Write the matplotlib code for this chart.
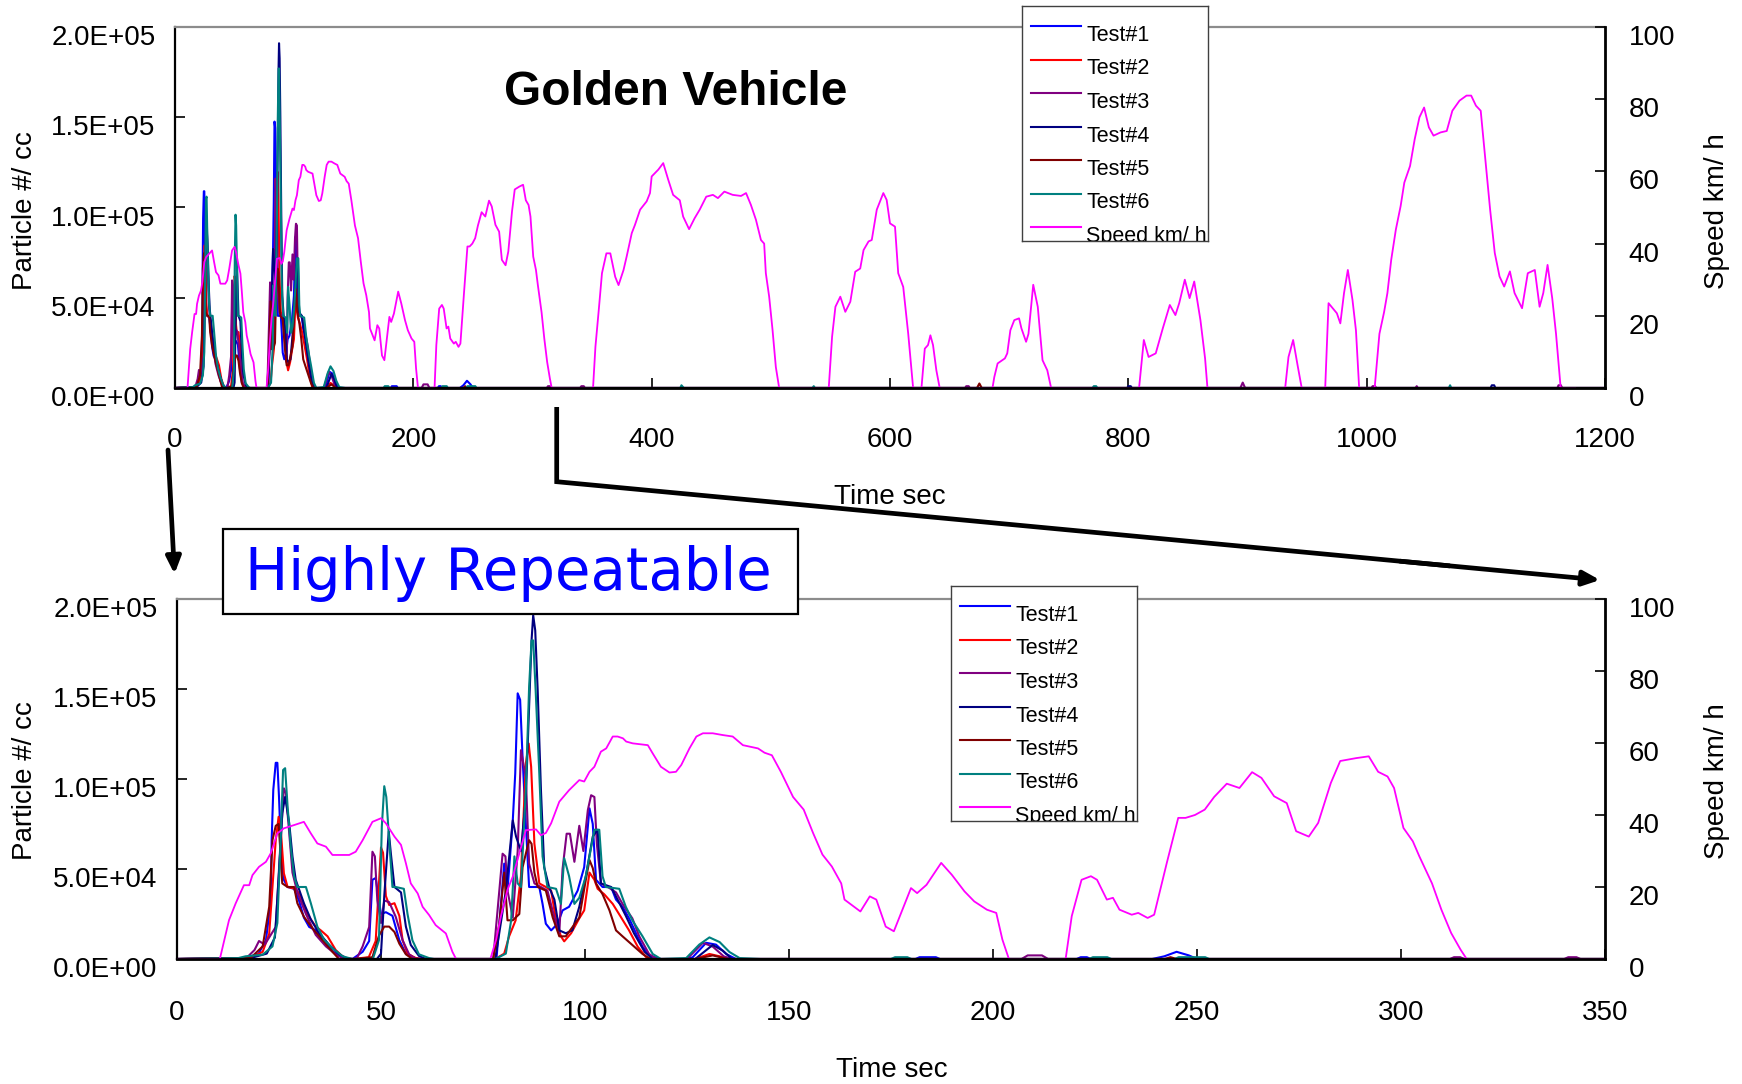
import matplotlib
matplotlib.use("Agg")
import matplotlib.pyplot as plt
import matplotlib.transforms as mtransforms
from matplotlib import font_manager
from matplotlib.patches import Rectangle, FancyArrowPatch, ArrowStyle
from matplotlib.lines import Line2D
import numpy as np

plt.rcParams['font.family'] = ['Liberation Sans', 'DejaVu Sans']

# ---------------- data ----------------
# particle counts in thousands of particles / cc, time in seconds
test1_t = [0, 17, 20, 21.8, 23, 23.2, 23.6, 24.2, 24.6, 25, 25.4, 25.8, 26.2, 27.1, 28.7, 29.9, 31.1, 32.4, 34, 36.5,
           38.1, 40.6, 43, 45.5, 47.1, 47.9, 48.7, 49.5, 50, 51.2, 52.8, 54.5, 56.1, 58.5, 60, 78.3, 79, 80.2, 81, 82.3,
           82.9, 83.5, 84.1, 84.7, 85.5, 86.3, 88.8, 89.6, 90.4, 91.7, 93.3, 94.5, 96.1, 98.2, 99.8, 101.1, 101.9,
           102.7, 104.3, 106.4, 107.6, 109.2, 110.8, 112.5, 114.1, 115.7, 118.2, 125, 126.4, 129.7, 132.1, 134.6, 137,
           181, 182, 186, 187, 220.5, 221.5, 223, 224, 239, 242, 245, 248, 250, 1200]
test1_k = [0, 0.5, 3, 10.4, 32.5, 66, 94, 109, 109, 90, 66, 51, 44, 40, 39, 32.5, 23, 17.8, 16, 9.8,
           4.3, 0.6, 0, 4, 10, 44, 45, 32.5, 25, 26, 24, 10.4, 3, 0.5, 0, 0, 19.6, 53, 38, 77,
           103, 147.6, 144, 112, 75, 40, 40, 30.6, 19.6, 15.9, 19.6, 27, 29, 38, 51, 83.7, 75,
           44, 40, 40, 33, 29, 22.6, 14.3, 6.9, 2.2, 0, 0, 1, 9, 8, 2.8, 0,
           0, 1, 1, 0, 0, 1, 1, 0, 0, 1.5, 4, 2, 0, 0]

test2_t = [0, 18, 21, 22.6, 24.2, 24.9, 25.4, 26.2, 27.1, 29.1, 30.3, 31.9, 34, 35.2, 36.9, 38.9, 41, 43, 47, 48.7,
           50, 50.5, 51.2, 52, 53.3, 54.5, 55.3, 56.5, 58.5, 60, 78, 80.2, 81.4, 83, 84.3, 85.5, 86.2, 86.8, 87.6,
           88.8, 90.4, 91.7, 92.9, 94.1, 94.9, 96.6, 98.6, 99.8, 101.1, 102.3, 103.1, 104.7, 106.8, 108.8, 110.8,
           112.9, 115, 116.6, 127, 130.5, 133, 135, 1200]
test2_k = [0, 0.5, 4, 14, 66, 79, 73, 47.6, 40, 39, 35, 25, 18, 16, 12.6, 5, 0.5, 0, 1, 10,
           62, 59, 35, 30, 31, 24, 10.4, 3, 0.5, 0, 0, 3, 12.6, 21.5, 46, 108.6, 119.7, 106.8, 64,
           42, 40, 38, 21.5, 12.6, 9.8, 14.3, 22.6, 27, 48, 44, 39, 36, 30.6, 23.3, 15.9,
           6.9, 1, 0, 0, 2.8, 1.5, 0, 0]

test3_t = [0, 17, 19, 20.1, 21.5, 24.2, 25.4, 26.2, 26.7, 27.5, 28.3, 29.5, 31.6, 34, 36.5, 38.9, 41, 44, 45.5, 47.1,
           47.9, 48.5, 49.1, 50, 50.8, 52, 53.6, 55.3, 56.9, 58.5, 77.5, 79, 79.8, 80.5, 81, 82.3, 83.5, 84.3, 85.5,
           86.3, 87.6, 89.2, 90.8, 92.5, 93.7, 94.5, 95.5, 96.3, 97.4, 98.6, 99.6, 100.7, 101.5, 102.3, 102.9, 103.9,
           105.6, 107.6, 109.2, 111.6, 113.3, 115.7, 117.5, 125, 128.9, 131.3, 134, 136,
           207, 208.5, 212, 213.5, 312, 313, 314.5, 315.5, 340, 341, 343, 344, 663, 664, 666, 667,
           894, 896, 898, 1004, 1005, 1007, 1008, 1041, 1042, 1043, 1160, 1161, 1163, 1164, 1200]
test3_k = [0, 0.5, 5, 10, 8, 17.8, 66, 94.8, 92, 70, 48, 37, 25, 13.4, 7, 2.6, 0, 0, 7, 17.8,
           59.6, 57, 32.5, 20, 32.5, 31.6, 23.5, 10.4, 2.6, 0, 0, 38, 58.5, 57, 38, 23, 60, 116, 101,
           53, 42, 40, 38, 23, 14.3, 50, 69.6, 69.6, 54, 74, 60, 82.8, 91, 90, 64, 42,
           40, 37, 30.6, 22.6, 12.6, 2.8, 0, 0, 9, 6.9, 1.5, 0,
           0, 2, 2, 0, 0, 1, 1, 0, 0, 1, 1, 0, 0, 1, 1, 0,
           0, 3, 0, 0, 1, 1, 0, 0, 1, 0, 0, 1.5, 1.5, 0, 0]

test4_t = [0, 18, 22, 24, 25, 25.8, 26.5, 27.5, 28.3, 29.1, 31.1, 32.8, 34.8, 37.3, 39.7, 42, 49, 50, 50.8, 51.9,
           52.4, 53.3, 54.9, 56.1, 57.3, 59.3, 61, 78, 80.6, 82.3, 83.1, 84.3, 85.5, 86.3, 86.9, 87.3, 87.8, 88.4,
           89.2, 90, 91.2, 92.5, 93.7, 95.3, 96.9, 98.6, 100.2, 101.9, 103.1, 103.9, 106.4, 108, 110, 112, 114.6,
           116.6, 127, 131.3, 133.8, 136, 799, 800, 802, 803, 1104, 1105, 1107, 1108, 1200]
test4_k = [0, 0.5, 3, 12, 48, 81, 90, 75.6, 57, 44, 31, 22, 14.4, 7.8, 2.6, 0, 0, 3, 35, 70.8,
           59, 40, 37, 18, 7.8, 1.7, 0, 0, 38, 77, 68, 60, 90, 140, 177, 191, 182.6, 149.5,
           94, 51, 40, 33, 15.9, 14.3, 15.9, 29, 46, 68, 71.8, 42, 40, 33, 24, 14.3, 4,
           0, 0, 7.8, 4.6, 0, 0, 1, 1, 0, 0, 1.5, 1.5, 0, 0]

test5_t = [0, 18, 21, 22.6, 23.4, 24.2, 24.9, 25.4, 25.8, 27.1, 28.7, 29.5, 31.1, 33.2, 35.7, 38.1, 39.7, 44, 47.9,
           49.5, 50.8, 52, 53.3, 54.5, 56.1, 57.7, 77.5, 79, 80.2, 81, 82.3, 83.9, 84.7, 86.3, 86.9, 87.6, 88.4, 90.4,
           92.1, 93.7, 95.3, 98.6, 100.2, 101.1, 101.9, 102.7, 104.3, 106, 107.6, 109.2, 111.6, 114.1, 116, 127,
           131.3, 135, 242, 243.5, 245, 673, 675, 677, 1200]
test5_k = [0, 0.5, 7, 29, 66, 74, 75, 58, 42, 40, 40, 31, 23.5, 17, 10.4, 4, 0, 0, 1,
           13, 18, 18, 15, 8.5, 2.6, 0, 0, 19.6, 48, 21.5, 21.5, 25, 51, 66, 64, 48, 40, 38,
           23, 12.6, 12.6, 23, 44, 55, 50.5, 42, 36, 27, 15.9, 12.6, 7.8, 2.8, 0, 0,
           2, 0, 0, 1, 0, 0, 2.5, 0, 0]

test6_t = [0, 15, 16.8, 21, 23.4, 24.6, 25.4, 26, 26.5, 27.1, 27.9, 28.7, 29.5, 31.6, 32.8, 34.4, 36, 38.1, 40.6, 43,
           48, 49.5, 50.2, 50.8, 51.3, 52, 52.8, 53.6, 55.6, 56.5, 57.7, 59.3, 61.8, 63, 78, 80.6, 81.9, 82.7, 83.5,
           84.3, 85.5, 86.3, 86.9, 87.3, 87.9, 88.8, 89.6, 90.8, 92.9, 94.1, 94.9, 96.1, 97.4, 98.6, 100.2, 102.3,
           103.5, 104.3, 105.1, 108.4, 110, 111.6, 114.1, 116.6, 118.6, 124.8, 128, 130.5, 133, 135.4, 137.9, 143,
           175, 176, 179, 180, 223.5, 224.5, 228, 229, 244.5, 245.5, 252, 253, 424, 425, 427, 535, 536, 537,
           770, 771, 773, 774, 1069, 1070, 1071, 1200]
test6_k = [0, 0.5, 1.5, 2.4, 7, 20, 66, 105, 106, 85, 62, 46, 40, 40, 31, 18, 11, 6, 1.5, 0,
           0, 10.4, 73.5, 96, 90, 66, 40, 40, 39, 25, 10.4, 2.6, 0.5, 0, 0, 3, 21.5, 57, 42,
           40, 94, 151, 177, 177, 149.5, 103, 57, 40, 39, 30.6, 56, 46, 30.6, 34, 46, 71.8,
           71.8, 46, 40, 39, 29, 21.5, 12.6, 2.8, 0, 0.5, 8, 12, 9.4, 3.9, 0.5, 0,
           0, 1, 1, 0, 0, 1, 1, 0, 0, 1, 1, 0, 0, 1.5, 0, 0, 1, 0,
           0, 1, 1, 0, 0, 1.5, 0, 0]

speed_t = [0, 10.5, 12.75, 14.4, 16.4, 17.7, 18.5, 20.1, 21.8, 23, 24.6, 26.2, 28.7, 31.1, 32.8, 34.4, 36.5, 38.1,
           42.2, 43.8, 45.5, 47.9, 50, 51.2, 53.3, 54.9, 56.1, 57.3, 59, 60.2, 61.8, 63.4, 65.9, 67.5, 68.4, 76.8,
           78.2, 79.4, 81, 82.3, 83.9, 85.5, 88, 89.2, 90.4, 91.7, 93.7, 96.1, 98.6, 99.8, 101.1, 102.3, 103.9,
           105.2, 106.8, 108, 109.3, 110.1, 111.7, 115.4, 116.6, 118.6, 120.7, 122.3, 123.6, 125.6, 127.3, 128.9,
           131.3, 133.8, 136.2, 138.7, 140.3, 142.4, 144, 145.8, 148, 151, 153.6, 155.9, 158.2, 160.5, 162.8, 163.6,
           167.5, 169.8, 171.4, 173.7, 175.7, 179.9, 181.4, 183.7, 187.3, 189.9, 193, 195.4, 198.5, 200.8, 202.3,
           203.9, 217.8, 219.3, 221.7, 224, 225.5, 227.9, 229.4, 231, 234, 235.6, 237.9, 239.5, 242.6, 245.4,
           247.2, 249.5, 251.9, 254.2, 257.3, 260.4, 263.5, 265.8, 268.9, 272, 274.3, 277.4, 279.7, 282.8, 285.1,
           289, 292.1, 294.4, 296.7, 298.3, 300.6, 302.9, 304.5, 307.6, 309.9, 312.3, 314.6, 316.1, 350.8, 352.8,
           355.6, 358.3, 362, 365.3, 369.4, 372.2, 376.4, 379, 383.3, 386, 390.3, 395.8, 398.6, 400, 405.6, 409.7,
           413.9, 418, 423.6, 426.4, 431.4, 436, 440.3, 445.8, 451.4, 455.6, 461, 468, 475, 479.2, 483.3, 487.5,
           491.7, 494.4, 495.8, 498.6, 501.4, 504.2, 507, 548.6, 551.4, 554.2, 558.3, 562.5, 566.7, 570.8, 575,
           577.8, 582, 584.7, 588.9, 594.4, 597.2, 600, 604.2, 606.9, 611.1, 615.3, 619.4, 626.4, 629.2, 631.9,
           633.9, 636.1, 638.9, 641.7, 686, 687.5, 690.3, 696.4, 698.4, 701, 704.3, 708.3, 710.3, 714.2, 716.2,
           720.2, 724, 728, 732, 735.2, 809, 813, 817, 823, 828.9, 834.8, 839.5, 842.7, 847.4, 851.4, 855.3, 860.5,
           864.4, 866.4, 931.6, 934.4, 938.3, 942.3, 945.5, 965.2, 968, 975, 977.9, 981, 984.2, 988.1, 991, 993.7,
           1006.7, 1010.7, 1014.6, 1017.4, 1020.6, 1024.5, 1028.5, 1031.6, 1036.4, 1040.3, 1044.3, 1048.2, 1052.2,
           1056.1, 1062, 1067.2, 1071.9, 1077.9, 1083.8, 1087.7, 1091.7, 1095.7, 1099.6, 1103.6, 1107.5, 1111.5,
           1115.4, 1120.2, 1124.1, 1130.4, 1135.2, 1141.1, 1145.1, 1148.2, 1151.8, 1155.7, 1158.9, 1162.8, 1175]
speed_v = [0, 0, 10.8, 15.5, 20.5, 20.5, 23.3, 25.6, 27, 29.4, 34.9, 36.3, 37.2, 38.1, 34.9, 32.1, 31.2, 28.9,
           28.9, 29.8, 33, 38.1, 39.1, 37.7, 34, 31.7, 26.6, 21, 18.2, 14.5, 12.2, 9.4, 7.1, 2, 0, 0,
           5.3, 11.9, 19.2, 22.9, 29.4, 35.8, 36, 34.4, 35, 37.7, 43.7, 46.9, 49.7, 49.3, 52, 53.4, 57.6,
           58.5, 61.8, 61.8, 61.3, 60.4, 59.9, 59.4, 57.1, 53.4, 51.8, 52, 53.9, 58.5, 61.8, 62.7,
           62.7, 62.2, 61.8, 59.4, 59, 58.5, 57.3, 56.6, 52, 45, 41.5, 35, 29, 25.7, 21, 16.5,
           13.2, 17.4, 16.5, 9, 7.7, 19.7, 18.3, 20.6, 26.7, 23.4, 18.8, 16, 13.7, 12.8, 5.4,
           0, 0, 11.9, 22, 23, 22, 16.5, 17, 13.7, 12.3, 12.8, 11.4, 12.3, 26.7, 39.2,
           39.2, 40, 41.5, 45, 48.7, 47.5, 51.9, 50.3, 45.2, 43.3, 35.5, 34, 37.8, 48.9, 55,
           55.8, 56.3, 52, 50.7, 47.5, 36.4, 32.7, 28.5, 21, 13.7, 7.2, 2.6, 0, 0, 11.4,
           21.6, 31.8, 37.3, 37.3, 30.8, 28.5, 32.7, 36.4, 42.9, 45.2, 49.4, 51.7, 54, 58.6, 60.5, 62.3,
           57.7, 53.5, 52, 47.5, 44, 47, 49.4, 53, 53.5, 52.6, 54.4, 53.5, 53.2, 54, 50.7, 46.6,
           41, 40, 31.8, 25.3, 16.2, 5.8, 0, 0, 14.2, 22.5, 25.3, 21.1, 23.9, 32.2, 33.1,
           38.2, 40.6, 41, 49.4, 54, 52.1, 45.6, 44.7, 31.8, 28, 15, 0, 0, 10.9, 11.9,
           14.6, 11.9, 4.9, 0, 0, 3, 6.8, 8.2, 9.6, 16, 18.8, 19.3, 16.5, 12.8, 15,
           28.6, 22.5, 7.7, 4.9, 0, 0, 13.3, 8.6, 9.6, 16.5, 23, 20.2, 23.5, 30, 24.9, 29.5, 18.8,
           8.2, 0, 0, 8.6, 13.3, 5.8, 0, 0, 23.5, 20.7, 17.9, 26.3, 32.7, 24.4, 16, 0,
           0, 15, 21, 26.3, 35.5, 43.9, 50.4, 56.9, 61.5, 68.9, 75, 77.7, 72.2,
           69.9, 70.8, 71.2, 76.8, 79.6, 81, 81, 78.2, 76.8, 63.4, 49.4, 37.4, 30.9,
           28.1, 32.3, 26.3, 22.1, 31.8, 32.7, 22.5, 26.3, 34.1, 24.9, 15, 0, 0]

legend_labels = ['Test#1', 'Test#2', 'Test#3', 'Test#4', 'Test#5', 'Test#6', 'Speed km/ h']
test_colors = ['#0000FF', '#FF0000', '#800080', '#000080', '#800000', '#008080']
speed_color = '#FF00FF'
p_ticks = [0, 50000, 100000, 150000, 200000]
v_ticks = [0, 20, 40, 60, 80, 100]
top_xticks = [0, 200, 400, 600, 800, 1000, 1200]
bot_xticks = [0, 50, 100, 150, 200, 250, 300, 350]

test_times = [test1_t, test2_t, test3_t, test4_t, test5_t, test6_t]
test_vals = [test1_k, test2_k, test3_k, test4_k, test5_k, test6_k]

# narrow font for the legend if available
_names = {f.name for f in font_manager.fontManager.ttflist}
if 'Liberation Sans Narrow' in _names:
    LEG_FAMILY, LEG_FS = ['Liberation Sans Narrow', 'DejaVu Sans'], 18
else:
    LEG_FAMILY, LEG_FS = ['Liberation Sans', 'DejaVu Sans'], 15.5

# ---------------- figure ----------------
W, H = 1742, 1084
fig = plt.figure(figsize=(W / 100, H / 100), dpi=100)
fig.patch.set_facecolor('white')


def fx(px):
    return px / W


def fy(py):
    return 1 - py / H


TICK_FS = 20
down = mtransforms.ScaledTranslation(0, -0.08, fig.dpi_scale_trans)


def panel(left, top, right, bottom, xmax, xticks, xpad):
    ax = fig.add_axes([fx(left), fy(bottom), (right - left) / W, (bottom - top) / H])
    for t, p, c in zip(test_times, test_vals, test_colors):
        ax.plot(t, np.asarray(p) * 1000.0, color=c, lw=1.5, solid_joinstyle='round')
    ax.set_xlim(0, xmax)
    ax.set_ylim(0, 2e5)
    ax.set_xticks(xticks)
    ax.set_xticklabels([str(v) for v in xticks])
    ax.set_yticks(p_ticks)
    ax.set_yticklabels([f"{v:.1E}" for v in p_ticks])
    ax.tick_params(axis='both', direction='in', length=7, width=1.2, labelsize=TICK_FS, colors='black')
    ax.tick_params(axis='x', pad=xpad)
    ax.tick_params(axis='y', pad=14)
    for s in ['left', 'bottom']:
        ax.spines[s].set_color('black')
        ax.spines[s].set_linewidth(1.6)
    ax.spines['top'].set_color('#8c8c8c')
    ax.spines['top'].set_linewidth(1.6)
    ax.spines['right'].set_visible(False)

    ax2 = ax.twinx()
    ax2.plot(speed_t, speed_v, color=speed_color, lw=1.3)
    ax2.set_ylim(0, 100)
    ax2.set_xlim(0, xmax)
    ax2.set_yticks(v_ticks)
    ax2.set_yticklabels([str(v) for v in v_ticks])
    ax2.tick_params(axis='y', direction='in', length=7, width=1.2, labelsize=TICK_FS, pad=17)
    ax2.tick_params(axis='x', bottom=False, labelbottom=False)
    for s in ['left', 'top']:
        ax2.spines[s].set_visible(False)
    for s in ['right', 'bottom']:
        ax2.spines[s].set_color('black')
        ax2.spines[s].set_linewidth(2.0)

    for lab in ax.get_yticklabels() + ax2.get_yticklabels():
        lab.set_transform(lab.get_transform() + down)
    return ax, ax2


panel(175, 27, 1605, 388, 1200, top_xticks, 28)
panel(177, 599, 1605, 959, 350, bot_xticks, 29.5)


def legend_box(left, top):
    bw, bh = 186, 235
    lax = fig.add_axes([fx(left), fy(top + bh), bw / W, bh / H], zorder=6)
    lax.set_xlim(0, bw)
    lax.set_ylim(bh, 0)
    lax.set_xticks([])
    lax.set_yticks([])
    lax.set_facecolor('white')
    for s in lax.spines.values():
        s.set_color('#404040')
        s.set_linewidth(1.0)
    colors = test_colors + [speed_color]
    for i, (lab, c) in enumerate(zip(legend_labels, colors)):
        y = 20 + 33.5 * i
        lax.plot([8.5, 58.7], [y, y], color=c, lw=1.5)
        lax.text(64, y + 15, lab, fontsize=LEG_FS, family=LEG_FAMILY, ha='left', va='baseline', clip_on=True)


legend_box(1022, 6)
legend_box(951, 586)

# titles and axis labels
fig.text(fx(504), fy(105), 'Golden Vehicle', fontsize=34.5, fontweight='bold', ha='left', va='baseline')
for yc in (211, 781):
    fig.text(fx(24.5), fy(yc), 'Particle #/ cc', rotation=90, fontsize=20, ha='center', va='center')
    fig.text(fx(1716.5), fy(yc), 'Speed km/ h', rotation=90, fontsize=20, ha='center', va='center')
fig.text(fx(890), fy(497), 'Time sec', fontsize=20, ha='center', va='center')
fig.text(fx(892), fy(1070), 'Time sec', fontsize=20, ha='center', va='center')

# "Highly Repeatable" box
fig.add_artist(Rectangle((fx(222.7), fy(614)), (798 - 222.7) / W, (614 - 529) / H,
                         transform=fig.transFigure, facecolor='white', edgecolor='black', lw=1.6, zorder=7))
fig.text(fx(245), fy(590), 'Highly Repeatable', color='#0000FF', fontsize=41.5,
         family=['DejaVu Sans'], ha='left', va='baseline', zorder=8)

# arrows
head = ArrowStyle('-|>', head_length=0.5, head_width=0.22)
fig.add_artist(FancyArrowPatch((fx(168), fy(450)), (fx(174.5), fy(574)), transform=fig.transFigure,
                               arrowstyle=head, mutation_scale=20, lw=3.4, color='black',
                               shrinkA=0, shrinkB=0, zorder=9))
fig.add_artist(Line2D([fx(556.7), fx(556.7), fx(1450)], [fy(407), fy(481.7), fy(565.9)],
                      transform=fig.transFigure, color='black', lw=3.4,
                      solid_joinstyle='miter', solid_capstyle='butt', zorder=9))
fig.add_artist(FancyArrowPatch((fx(1400), fy(561.2)), (fx(1600), fy(580)), transform=fig.transFigure,
                               arrowstyle=head, mutation_scale=20, lw=3.4, color='black',
                               shrinkA=0, shrinkB=0, zorder=9))

fig.savefig('out.png', dpi=100, facecolor='white')
